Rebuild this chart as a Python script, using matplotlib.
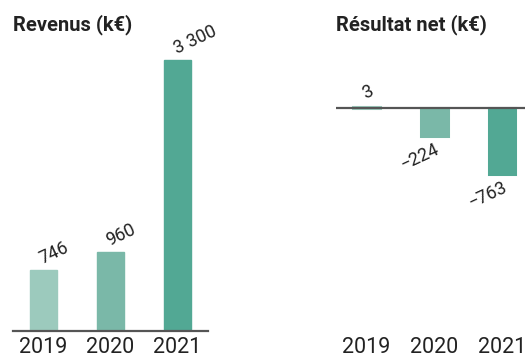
import numpy as np
from matplotlib import pyplot as plt

plt.rcParams['font.family'] = ['Roboto', 'DejaVu Sans']

years = ['2019', '2020', '2021']
revenus = [746, 960, 3300]
resultat = [3, -224, -763]
revenus_labels = ['746', '960', '3 300']
resultat_labels = ['3', '\u2212224', '\u2212763']
bar_colors = ['#9ccabd', '#7ab8a8', '#52a894']

W, H = 525, 358
fig = plt.figure(figsize=(W / 100, H / 100), dpi=100)


def px_box(x0, x1, ytop, ybot):
    # axes rectangle from pixel coords (origin top-left)
    return [x0 / W, 1 - ybot / H, (x1 - x0) / W, (ybot - ytop) / H]


# power scale so small results stay visible
def fwd(v):
    v = np.asarray(v, dtype=float)
    return np.sign(v) * np.abs(v) ** 0.7


def inv(v):
    v = np.asarray(v, dtype=float)
    return np.sign(v) * np.abs(v) ** (1 / 0.7)


x = np.arange(len(years))
txt = '#222222'

# --- Revenus ---
ax1 = fig.add_axes(px_box(13, 208, 50, 331))
ax1.bar(x, revenus, width=0.41, color=bar_colors, edgecolor=bar_colors, linewidth=1)
ax1.set_xlim(-0.455, 2.455)
ax1.set_ylim(0, 3422)
for i, v in enumerate(revenus):
    ax1.annotate(revenus_labels[i], (i, v), xytext=(0.5, 1.5), textcoords='offset points',
                 rotation=25, rotation_mode='anchor', ha='left', va='bottom',
                 fontsize=13, color=txt)

# --- Resultat net ---
ax2 = fig.add_axes(px_box(336, 533, 50, 331))
ax2.set_yscale('function', functions=(fwd, inv))
ax2.bar(x, resultat, width=0.39, color=bar_colors, edgecolor=bar_colors, linewidth=2.2)
ax2.set_xlim(-0.45, 2.455)
ax2.set_ylim(-4350, 635)
ax2.axhline(0, color='#555555', lw=1.6)
for i, v in enumerate(resultat):
    if v >= 0:
        ax2.annotate(resultat_labels[i], (i, v), xytext=(0, 3), textcoords='offset points',
                     rotation=25, rotation_mode='anchor', ha='left', va='bottom',
                     fontsize=13, color=txt)
    else:
        ax2.annotate(resultat_labels[i], (i, v), xytext=(0, -3), textcoords='offset points',
                     rotation=25, rotation_mode='anchor', ha='right', va='top',
                     fontsize=13, color=txt)

for ax in (ax1, ax2):
    ax.set_xticks(x)
    ax.set_xticklabels(years, fontsize=15.5, color=txt)
    ax.tick_params(axis='x', length=0, pad=4)
    ax.set_yticks([])
    ax.yaxis.set_minor_locator(plt.NullLocator())
    for s in ('top', 'left', 'right'):
        ax.spines[s].set_visible(False)
    ax.patch.set_visible(False)

ax1.spines['bottom'].set_color('#555555')
ax1.spines['bottom'].set_linewidth(1.6)
ax2.spines['bottom'].set_visible(False)

fig.text(13 / W, 1 - 25 / H, 'Revenus (k€)', fontsize=14.5, fontweight='bold',
         color=txt, va='center', ha='left')
fig.text(336 / W, 1 - 25 / H, 'Résultat net (k€)', fontsize=14.5, fontweight='bold',
         color=txt, va='center', ha='left')

fig.savefig('out.png', dpi=100)
